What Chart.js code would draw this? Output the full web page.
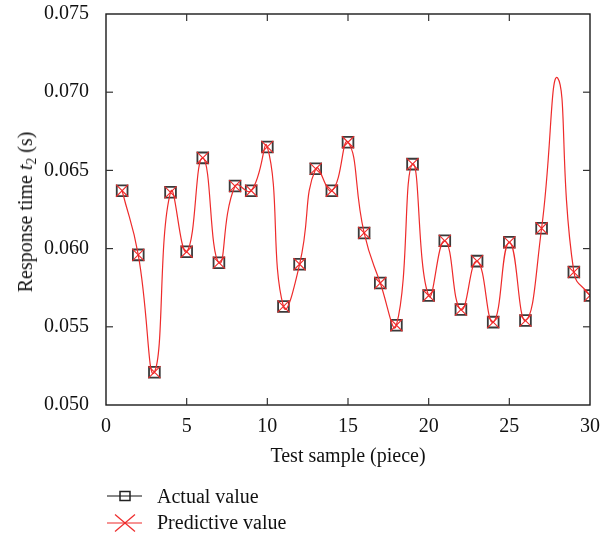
<!DOCTYPE html>
<html>
<head>
<meta charset="utf-8">
<script src="https://cdn.jsdelivr.net/npm/chart.js@4/dist/chart.umd.min.js"></script>
<style>
  html, body { margin: 0; padding: 0; background: #fff; }
  #wrap { position: relative; width: 612px; height: 540px; }
  #chart { position: absolute; left: 0; top: 0; }
  .ytitle {
    position: absolute; left: 25px; top: 212px;
    font-family: "Liberation Serif", "DejaVu Serif", serif; font-size: 20px; color: #111;
    transform: translate(-50%, -50%) rotate(-90deg); white-space: nowrap; line-height: 1;
  }
  .ytitle sub { font-size: 0.68em; vertical-align: -0.3em; line-height: 0; }
  .legend {
    position: absolute; left: 105px; top: 483px;
    font-family: "Liberation Serif", "DejaVu Serif", serif; font-size: 20px; color: #111;
  }
  .row { display: flex; align-items: center; height: 26.6px; }
  .row svg { flex: none; }
</style>
</head>
<body>
<div id="wrap">
  <canvas id="chart" width="612" height="540"></canvas>
  <div class="ytitle">Response time <i>t</i><sub>2</sub> (s)</div>
  <div class="legend">
    <div class="row">
      <svg width="52" height="26" viewBox="0 0 52 26">
        <line x1="2" y1="13" x2="37" y2="13" stroke="#111" stroke-width="1.2"/>
        <rect x="15" y="8.5" width="10" height="9" fill="none" stroke="#222" stroke-width="1.5"/>
      </svg>
      <span>Actual value</span>
    </div>
    <div class="row">
      <svg width="52" height="26" viewBox="0 0 52 26">
        <line x1="2" y1="13" x2="37" y2="13" stroke="#ee2b2b" stroke-width="1.2"/>
        <line x1="10" y1="4.5" x2="30" y2="21.5" stroke="#ee2b2b" stroke-width="1.2"/>
        <line x1="10" y1="21.5" x2="30" y2="4.5" stroke="#ee2b2b" stroke-width="1.2"/>
      </svg>
      <span>Predictive value</span>
    </div>
  </div>
</div>
<script>
// ---- data ----
const samples = [1,2,3,4,5,6,7,8,9,10,11,12,13,14,15,16,17,18,19,20,21,22,23,24,25,26,27,28,29,30];
const actualValues = [0.0637,0.0596,0.0521,0.0636,0.0598,0.0658,0.0591,0.0640,0.0637,0.0665,
                      0.0563,0.0590,0.0651,0.0637,0.0668,0.0610,0.0578,0.0551,0.0654,0.0570,
                      0.0605,0.0561,0.0592,0.0553,0.0604,0.0554,0.0613,null,0.0585,0.0570];
const predictiveValues = [0.0637,0.0596,0.0521,0.0636,0.0598,0.0658,0.0591,0.0640,0.0637,0.0665,
                          0.0563,0.0590,0.0651,0.0637,0.0668,0.0610,0.0578,0.0551,0.0654,0.0570,
                          0.0605,0.0561,0.0592,0.0553,0.0604,0.0554,0.0613,0.0709,0.0585,0.0570];
const markedSamples = [1,2,3,4,5,6,7,8,9,10,11,12,13,14,15,16,17,18,19,20,21,22,23,24,25,26,27,29,30];
const xTicks = [0,5,10,15,20,25,30];
const yTicks = [0.050,0.055,0.060,0.065,0.070,0.075];
const xTitle = 'Test sample (piece)';
const seriesNames = ['Actual value','Predictive value'];

const RED = '#ee2b2b';
const FONT = { family: '"Liberation Serif", "DejaVu Serif", serif', size: 20 };

const toPts = vals => samples.map((s, i) => ({ x: s, y: vals[i] }));
const markR = (r) => samples.map(s => markedSamples.includes(s) ? r : 0);

const framePlugin = {
  id: 'frame',
  afterDatasetsDraw(chart) {
    const { ctx, chartArea: a, scales: { x, y } } = chart;
    ctx.save();
    ctx.strokeStyle = '#1a1a1a';
    ctx.lineWidth = 1.4;
    ctx.strokeRect(a.left, a.top, a.right - a.left, a.bottom - a.top);
    ctx.strokeStyle = '#333';
    ctx.lineWidth = 1.2;
    const L = 7;
    const seg = (x1, y1, x2, y2) => { ctx.beginPath(); ctx.moveTo(x1, y1); ctx.lineTo(x2, y2); ctx.stroke(); };
    x.ticks.forEach(t => {
      if (t.value <= x.min || t.value >= x.max) return;
      const px = x.getPixelForValue(t.value);
      seg(px, a.bottom, px, a.bottom - L);
      seg(px, a.top, px, a.top + L);
    });
    y.ticks.forEach(t => {
      if (t.value <= y.min + 1e-9 || t.value >= y.max - 1e-9) return;
      const py = y.getPixelForValue(t.value);
      seg(a.left, py, a.left + L, py);
      seg(a.right, py, a.right - L, py);
    });
    ctx.restore();
  }
};

new Chart(document.getElementById('chart'), {
  type: 'line',
  data: {
    datasets: [
      {
        label: seriesNames[1],
        data: toPts(predictiveValues),
        borderColor: RED,
        borderWidth: 1.2,
        tension: 0.5,
        pointStyle: 'crossRot',
        pointRadius: markR(8.5),
        pointBorderColor: RED,
        pointBorderWidth: 1.1,
        pointBackgroundColor: 'transparent',
        fill: false,
        clip: 0,
        order: 0
      },
      {
        label: seriesNames[0],
        data: toPts(actualValues),
        showLine: false,
        pointStyle: 'rect',
        pointRadius: markR(7.6),
        pointBorderColor: '#3a3a3a',
        pointBorderWidth: 1.8,
        pointBackgroundColor: 'transparent',
        clip: 0,
        order: 1
      }
    ]
  },
  options: {
    responsive: false,
    animation: false,
    events: [],
    layout: { padding: { left: 0, right: 22, top: 14, bottom: 70 } },
    plugins: { legend: { display: false }, tooltip: { enabled: false } },
    scales: {
      x: {
        type: 'linear', min: 0, max: 30,
        afterBuildTicks: s => { s.ticks = xTicks.map(v => ({ value: v })); },
        grid: { display: false }, border: { display: false },
        ticks: { font: FONT, color: '#111', padding: 2, maxRotation: 0, autoSkip: false },
        title: { display: true, text: xTitle, font: FONT, color: '#111', padding: { top: 0, bottom: 1 } },
        afterFit: s => { s.height = 65; s.paddingLeft = 0; s.paddingRight = 0; }
      },
      y: {
        type: 'linear', min: 0.050, max: 0.075,
        afterBuildTicks: s => { s.ticks = yTicks.map(v => ({ value: v })); },
        grid: { display: false }, border: { display: false },
        ticks: { font: FONT, color: '#111', padding: 9, autoSkip: false, callback: v => v.toFixed(3) },
        afterFit: s => { s.width = 106; s.paddingTop = 0; s.paddingBottom = 0; }
      }
    }
  },
  plugins: [framePlugin]
});
</script>
</body>
</html>
